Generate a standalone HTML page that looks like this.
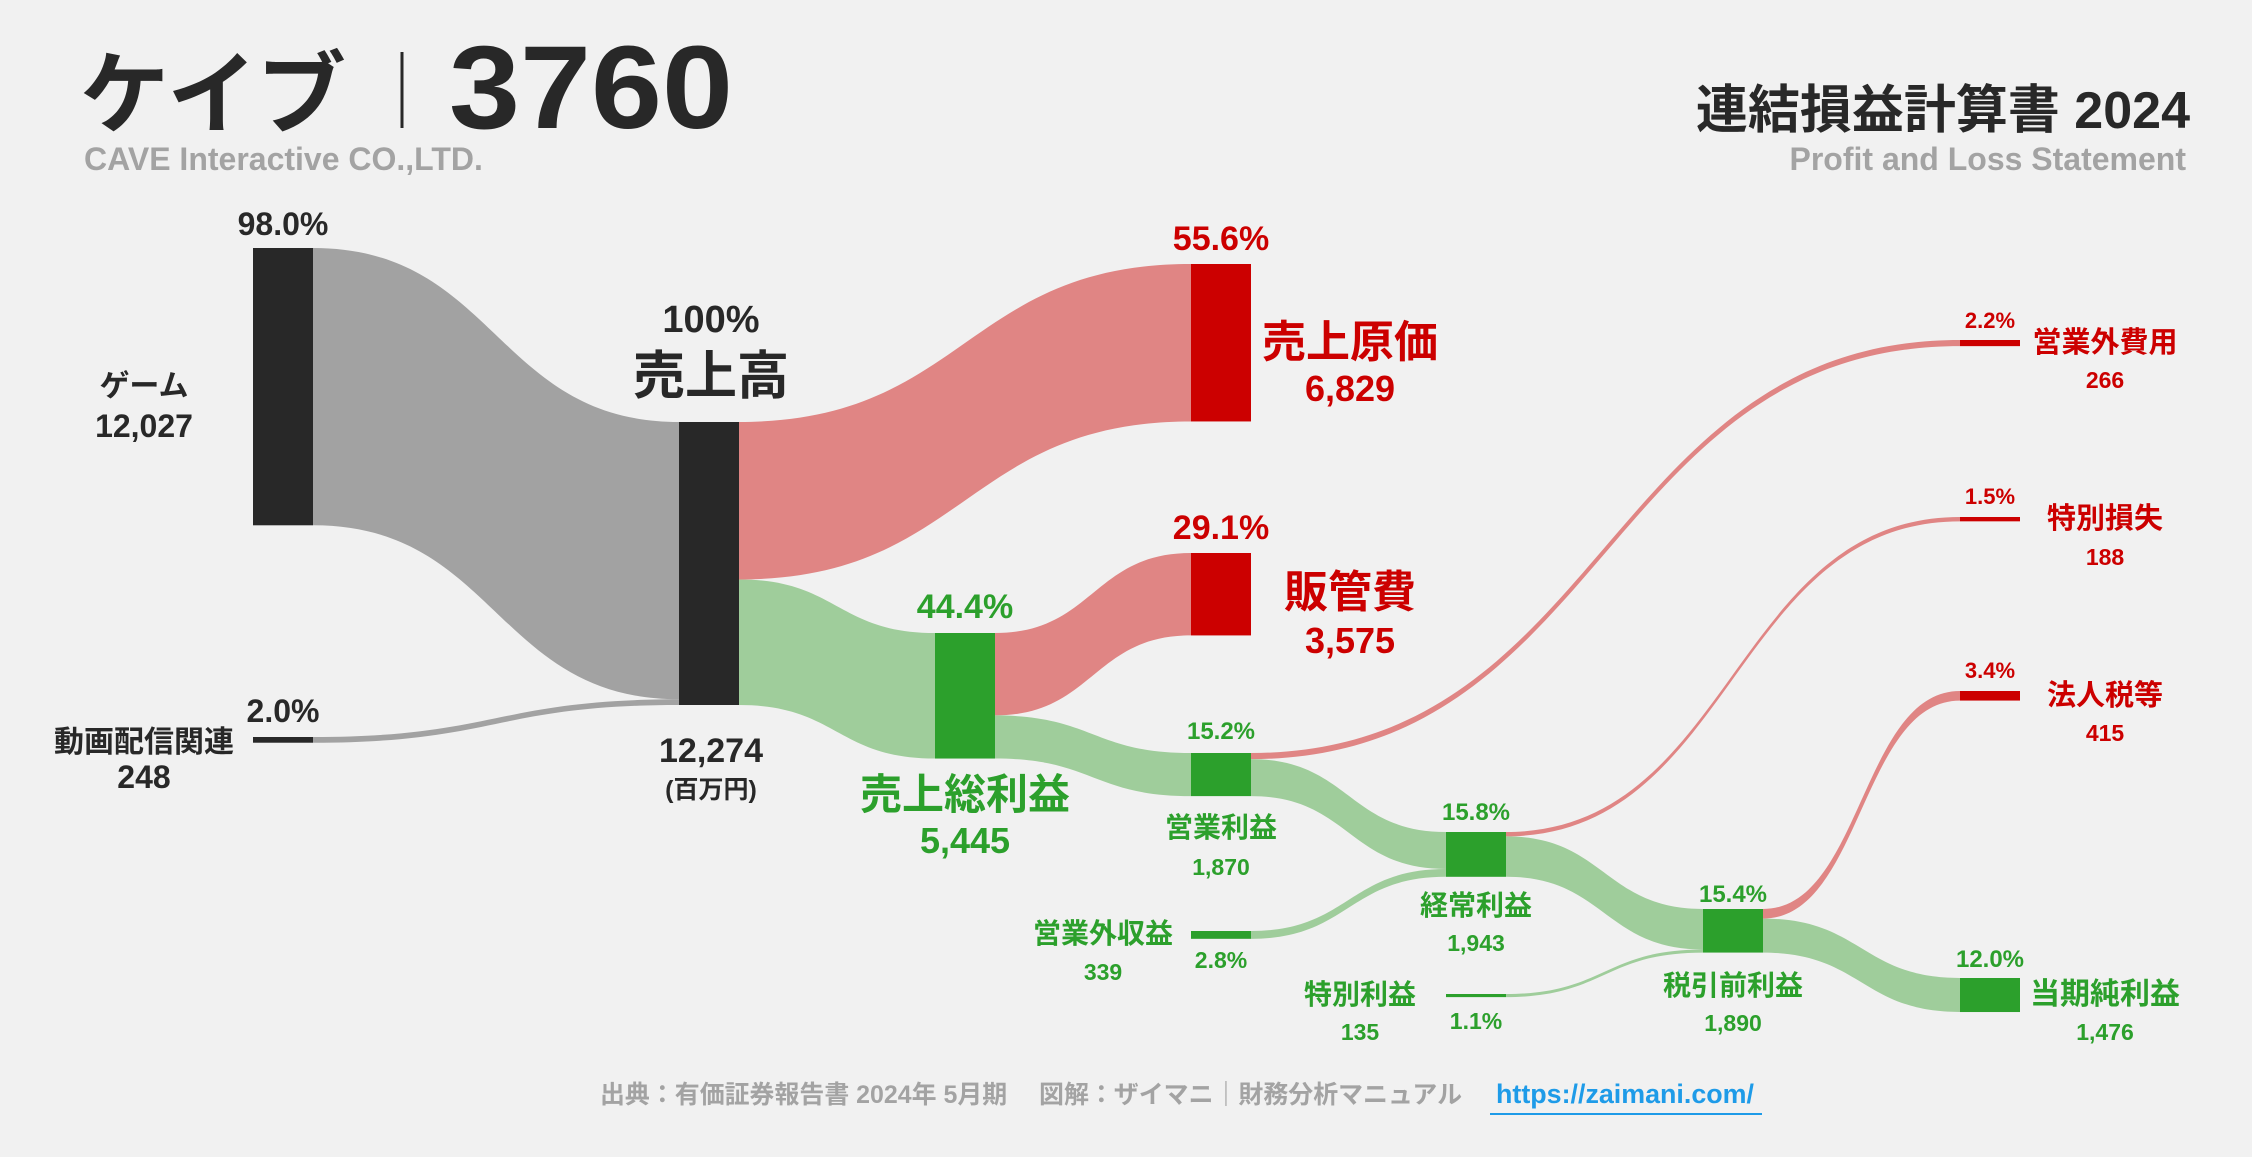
<!DOCTYPE html>
<html><head><meta charset="utf-8">
<style>
html,body{margin:0;padding:0;background:#f1f1f1;}
svg{display:block;font-family:"Liberation Sans","Noto Sans CJK JP",sans-serif;font-weight:700;}
</style></head>
<body>
<svg id="chart" width="2252" height="1157" viewBox="0 0 2252 1157" xmlns="http://www.w3.org/2000/svg">
<rect width="2252" height="1157" fill="#f1f1f1"/>
<g>
<text x="80" y="126" font-size="90" fill="#282828" textLength="266" lengthAdjust="spacingAndGlyphs">ケイブ</text>
<line x1="402" y1="52" x2="402" y2="128" stroke="#282828" stroke-width="3"/>
<text x="449" y="128" font-size="118" fill="#282828" textLength="284" lengthAdjust="spacingAndGlyphs">3760</text>
<text x="84" y="170" font-size="32" fill="#a3a3a3">CAVE Interactive CO.,LTD.</text>
<text x="2190" y="128" font-size="52" fill="#282828" text-anchor="end">連結損益計算書 2024</text>
<text x="2186" y="170" font-size="32" fill="#a3a3a3" text-anchor="end">Profit and Loss Statement</text>
</g>
<g id="links"></g>
<g id="nodes"></g>
<g text-anchor="middle">
<text x="283" y="235" font-size="32" fill="#282828">98.0%</text>
<text x="144" y="396" font-size="30" fill="#282828">ゲーム</text>
<text x="144" y="437" font-size="32" fill="#282828">12,027</text>
<text x="283" y="722" font-size="32" fill="#282828">2.0%</text>
<text x="144" y="752" font-size="30" fill="#282828">動画配信関連</text>
<text x="144" y="788" font-size="32" fill="#282828">248</text>
<text x="711" y="332" font-size="38" fill="#282828">100%</text>
<text x="711" y="394" font-size="52" fill="#282828">売上高</text>
<text x="711" y="762" font-size="34" fill="#282828">12,274</text>
<text x="711" y="798" font-size="25" fill="#282828">(百万円)</text>
<text x="1221" y="250" font-size="34" fill="#cc0000">55.6%</text>
<text x="1350" y="357" font-size="44" fill="#cc0000">売上原価</text>
<text x="1350" y="401" font-size="36" fill="#cc0000">6,829</text>
<text x="1221" y="539" font-size="34" fill="#cc0000">29.1%</text>
<text x="1350" y="607" font-size="44" fill="#cc0000">販管費</text>
<text x="1350" y="653" font-size="36" fill="#cc0000">3,575</text>
<text x="965" y="618" font-size="34" fill="#2ca02c">44.4%</text>
<text x="965" y="809" font-size="42" fill="#2ca02c">売上総利益</text>
<text x="965" y="853" font-size="36" fill="#2ca02c">5,445</text>
<text x="1221" y="739" font-size="24" fill="#2ca02c">15.2%</text>
<text x="1221" y="837" font-size="28" fill="#2ca02c">営業利益</text>
<text x="1221" y="875" font-size="23" fill="#2ca02c">1,870</text>
<text x="1103" y="943" font-size="28" fill="#2ca02c">営業外収益</text>
<text x="1103" y="980" font-size="23" fill="#2ca02c">339</text>
<text x="1221" y="968" font-size="23" fill="#2ca02c">2.8%</text>
<text x="1476" y="820" font-size="24" fill="#2ca02c">15.8%</text>
<text x="1476" y="915" font-size="28" fill="#2ca02c">経常利益</text>
<text x="1476" y="951" font-size="23" fill="#2ca02c">1,943</text>
<text x="1360" y="1004" font-size="28" fill="#2ca02c">特別利益</text>
<text x="1360" y="1040" font-size="23" fill="#2ca02c">135</text>
<text x="1476" y="1029" font-size="23" fill="#2ca02c">1.1%</text>
<text x="1733" y="902" font-size="24" fill="#2ca02c">15.4%</text>
<text x="1733" y="995" font-size="28" fill="#2ca02c">税引前利益</text>
<text x="1733" y="1031" font-size="23" fill="#2ca02c">1,890</text>
<text x="1990" y="967" font-size="24" fill="#2ca02c">12.0%</text>
<text x="2105" y="1004" font-size="30" fill="#2ca02c">当期純利益</text>
<text x="2105" y="1040" font-size="23" fill="#2ca02c">1,476</text>
<text x="1990" y="328" font-size="22" fill="#cc0000">2.2%</text>
<text x="2105" y="352" font-size="29" fill="#cc0000">営業外費用</text>
<text x="2105" y="388" font-size="23" fill="#cc0000">266</text>
<text x="1990" y="504" font-size="22" fill="#cc0000">1.5%</text>
<text x="2105" y="528" font-size="29" fill="#cc0000">特別損失</text>
<text x="2105" y="565" font-size="23" fill="#cc0000">188</text>
<text x="1990" y="678" font-size="22" fill="#cc0000">3.4%</text>
<text x="2105" y="705" font-size="29" fill="#cc0000">法人税等</text>
<text x="2105" y="741" font-size="23" fill="#cc0000">415</text>
</g>
<g>
<text x="600" y="1103" font-size="25" fill="#a3a3a3" textLength="862" lengthAdjust="spacingAndGlyphs">出典：有価証券報告書 2024年 5月期　 図解：ザイマニ｜財務分析マニュアル</text>
<text x="1496" y="1103" font-size="27" fill="#1e9be8" textLength="258" lengthAdjust="spacingAndGlyphs">https://zaimani.com/</text>
<line x1="1490" y1="1114" x2="1762" y2="1114" stroke="#1e9be8" stroke-width="2"/>
</g>
</svg>
<script>
const nodeNames = ["game","video","revenue","cogs","grossProfit","sga","opIncome","nonOpExpense","nonOpIncome","ordinary","specialLoss","specialGain","pretax","tax","netIncome"];
const nodeValues = [12027,248,12274,6829,5445,3575,1870,266,339,1943,188,135,1890,415,1476];
const nodeTypes = ["dark","dark","dark","red","green","red","green","red","green","green","red","green","green","red","green"];
const linkSources = [0,1,2,2,4,4,6,6,8,9,9,11,12,12];
const linkTargets = [2,2,3,4,5,6,7,9,9,10,12,12,13,14];
const linkValues = [12027,248,6829,5445,3575,1870,266,1604,339,188,1755,135,415,1475];
// layout (pixel positions, not data)
const nodeX = [253,253,679,1191,935,1191,1191,1960,1191,1446,1960,1446,1703,1960,1960];
const nodeY = [248,737,422,264,633,553,753,340,931,832,517,994,909,691,978];
const W = 60, scale = 283/12274;
const fills = {dark:"#282828",red:"#cc0000",green:"#2ca02c"};
const linkFill = {dark:"#a2a2a2",red:"#e08584",green:"#9fcd9b"};
const NS = "http://www.w3.org/2000/svg";
const gL = document.getElementById("links"), gN = document.getElementById("nodes");
const outOff = nodeValues.map(()=>0), inOff = nodeValues.map(()=>0);
for (let i=0;i<linkValues.length;i++){
  const s=linkSources[i], t=linkTargets[i], h=linkValues[i]*scale;
  const x0=nodeX[s]+W, x1=nodeX[t];
  const sy=nodeY[s]+outOff[s], ty=nodeY[t]+inOff[t];
  outOff[s]+=h; inOff[t]+=h;
  const m=(x0+x1)/2;
  const p=document.createElementNS(NS,"path");
  p.setAttribute("d",`M${x0},${sy}C${m},${sy} ${m},${ty} ${x1},${ty}L${x1},${ty+h}C${m},${ty+h} ${m},${sy+h} ${x0},${sy+h}Z`);
  const tp = s<2 ? "dark" : nodeTypes[t];
  p.setAttribute("fill",linkFill[tp]);
  
  
  gL.appendChild(p);
}
for (let i=0;i<nodeValues.length;i++){
  const r=document.createElementNS(NS,"rect");
  r.setAttribute("x",nodeX[i]); r.setAttribute("y",nodeY[i]);
  r.setAttribute("width",W); r.setAttribute("height",Math.max(nodeValues[i]*scale,3));
  r.setAttribute("fill",fills[nodeTypes[i]]);
  
  
  gN.appendChild(r);
}
</script>
</body></html>
